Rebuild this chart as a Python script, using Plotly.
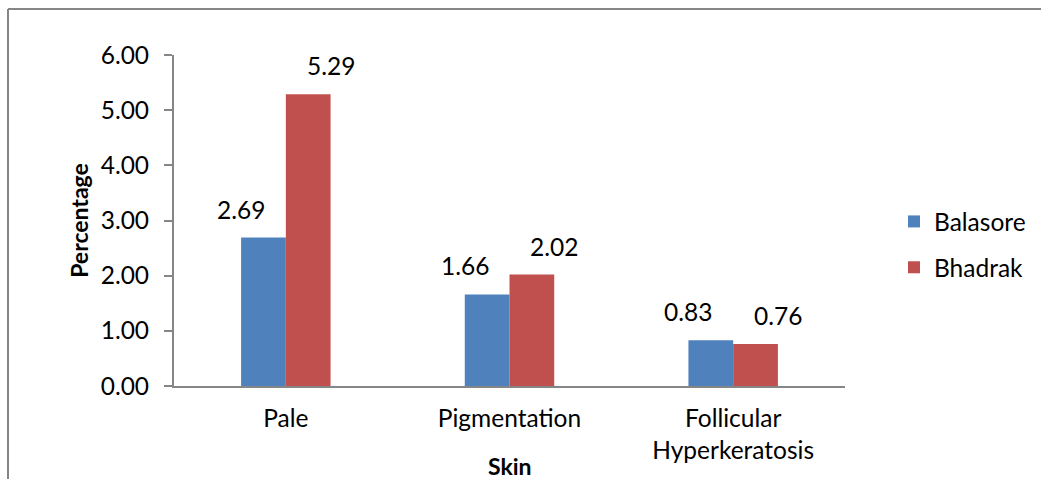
import plotly.graph_objects as go

categories = ["Pale", "Pigmentation", "Follicular<br>Hyperkeratosis"]
balasore = [2.69, 1.66, 0.83]
bhadrak = [5.29, 2.02, 0.76]
y_ticks = [0, 1, 2, 3, 4, 5, 6]

W, H = 1041, 479
L, R, T, B = 174, 196, 55, 93
pw, ph = W - L - R, H - T - B

def px_x(p):
    return (p - L) / pw

def px_y(p):
    return (H - B - p) / ph

FONT = "Lato, Carlito, Calibri, sans-serif"
FS = 24.5
BLUE = "#4f81bd"
RED = "#c0504d"
GRAY = "#868686"

fig = go.Figure()
fig.add_trace(go.Bar(name="Balasore", x=categories, y=balasore, marker_color=BLUE,
                     marker_line_width=0, legendgroup="a"))
fig.add_trace(go.Bar(name="Bhadrak", x=categories, y=bhadrak, marker_color=RED,
                     marker_line_width=0, legendgroup="b"))

# value labels above each bar
ann = []
for i, c in enumerate(categories):
    for off, vals in ((-0.2, balasore), (0.2, bhadrak)):
        ann.append(dict(x=i + off, y=vals[i], xref="x", yref="y", text=f"{vals[i]:.2f}",
                        showarrow=False, yanchor="bottom", yshift=12,
                        font=dict(family=FONT, size=FS, color="#000")))
ann.append(dict(x=0.5, y=px_y(466), xref="paper", yref="paper", text="<b>Skin</b>",
                showarrow=False, xanchor="center", yanchor="middle",
                font=dict(family=FONT, size=23, color="#000")))

fig.update_layout(
    width=W, height=H,
    margin=dict(l=L, r=R, t=T, b=B, autoexpand=False),
    paper_bgcolor="white", plot_bgcolor="white",
    barmode="group", bargap=0.6, bargroupgap=0,
    font=dict(family=FONT, size=FS, color="#000"),
    annotations=ann,
    legend=dict(x=px_x(894), y=px_y(199), xanchor="left", yanchor="top",
                font=dict(family=FONT, size=FS), tracegroupgap=11, itemsizing="constant",
                bgcolor="rgba(0,0,0,0)"),
    xaxis=dict(showline=True, linecolor=GRAY, linewidth=2, ticks="", showgrid=False,
               tickfont=dict(family=FONT, size=FS), ticklabelstandoff=10),
    yaxis=dict(range=[0, 6], tickvals=y_ticks, tickformat=".2f", showline=True,
               linecolor=GRAY, linewidth=2, ticks="outside", ticklen=8, tickcolor=GRAY,
               tickwidth=2, showgrid=False, zeroline=False, ticklabelstandoff=10,
               title=dict(text="<b>Percentage</b>", font=dict(family=FONT, size=23),
                          standoff=6)),
    shapes=[
        dict(type="line", xref="paper", yref="paper", x0=px_x(8), x1=px_x(8),
             y0=px_y(9), y1=px_y(490), line=dict(color=GRAY, width=2)),
        dict(type="line", xref="paper", yref="paper", x0=px_x(8), x1=px_x(1050),
             y0=px_y(9), y1=px_y(9), line=dict(color=GRAY, width=2)),
    ],
)

fig.write_html("out.html")
